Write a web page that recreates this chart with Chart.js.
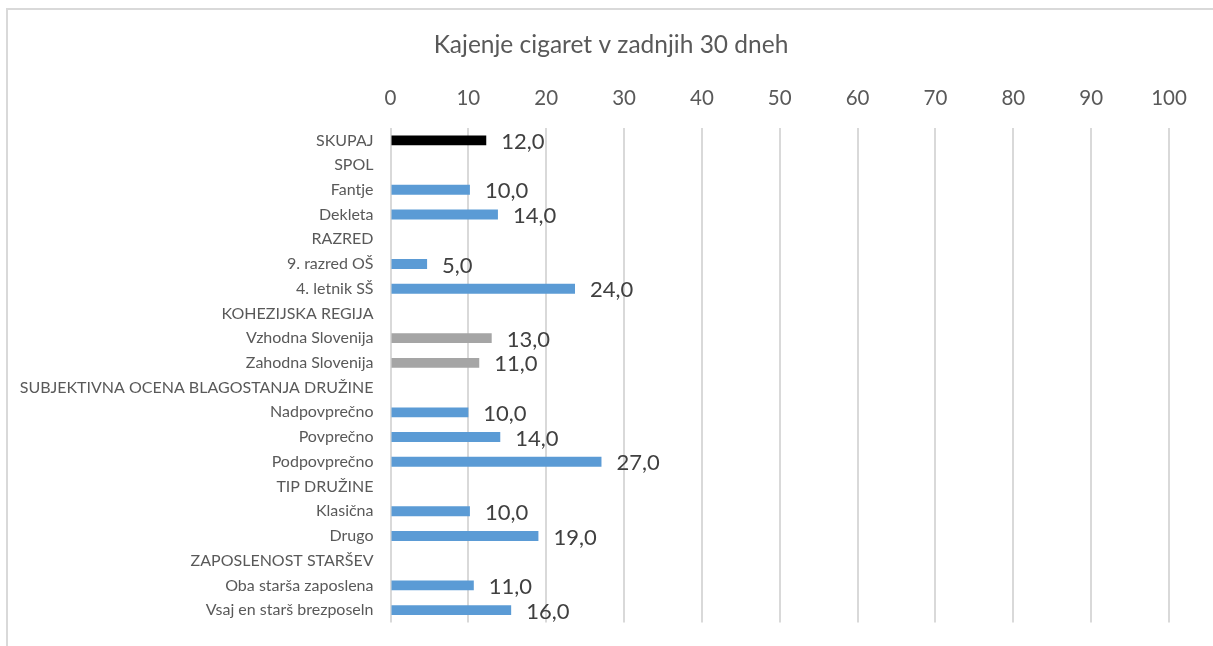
<!DOCTYPE html>
<html><head><meta charset="utf-8">
<script src="https://cdn.jsdelivr.net/npm/chart.js@4"></script>
<style>html,body{margin:0;padding:0;background:#fff;overflow:hidden}</style>
</head><body>
<canvas id="c" width="1213" height="646"></canvas>
<script>
const categories = [
  'SKUPAJ', 'SPOL', 'Fantje', 'Dekleta', 'RAZRED', '9. razred OŠ', '4. letnik SŠ',
  'KOHEZIJSKA REGIJA', 'Vzhodna Slovenija', 'Zahodna Slovenija',
  'SUBJEKTIVNA OCENA BLAGOSTANJA DRUŽINE', 'Nadpovprečno', 'Povprečno', 'Podpovprečno',
  'TIP DRUŽINE', 'Klasična', 'Drugo', 'ZAPOSLENOST STARŠEV',
  'Oba starša zaposlena', 'Vsaj en starš brezposeln'
];
const values = [
  12.3, null, 10.2, 13.8, null, 4.7, 23.7, null, 13.0, 11.4,
  null, 10.0, 14.1, 27.1, null, 10.2, 19.0, null, 10.7, 15.5
];
const valueLabels = [
  '12,0', '', '10,0', '14,0', '', '5,0', '24,0', '', '13,0', '11,0',
  '', '10,0', '14,0', '27,0', '', '10,0', '19,0', '', '11,0', '16,0'
];
const xTicks = [0, 10, 20, 30, 40, 50, 60, 70, 80, 90, 100];
const chartTitle = 'Kajenje cigaret v zadnjih 30 dneh';

// styling
const BLUE = '#5B9BD5', BLACK = '#000000', GRAY = '#A5A5A5';
const grayRows = ['Vzhodna Slovenija', 'Zahodna Slovenija'];
const barColors = categories.map((c, i) => i === 0 ? BLACK : (grayRows.includes(c) ? GRAY : BLUE));
const FONT = 'Lato, "Open Sans", sans-serif';

const frame = {
  id: 'frame',
  beforeDraw(chart) {
    const ctx = chart.ctx;
    ctx.save();
    ctx.strokeStyle = '#D9D9D9';
    ctx.lineWidth = 2;
    ctx.beginPath();
    ctx.moveTo(7, 660);
    ctx.lineTo(7, 9);
    ctx.lineTo(1230, 9);
    ctx.stroke();
    ctx.restore();
  }
};

const dataLabels = {
  id: 'dataLabels',
  afterDatasetsDraw(chart) {
    const ctx = chart.ctx;
    const meta = chart.getDatasetMeta(0);
    ctx.save();
    ctx.font = '22px ' + FONT;
    ctx.fillStyle = '#404040';
    ctx.textAlign = 'left';
    ctx.textBaseline = 'middle';
    meta.data.forEach((bar, i) => {
      if (values[i] == null || !valueLabels[i]) return;
      ctx.fillText(valueLabels[i], bar.x + 15, bar.y + 1.5);
    });
    ctx.restore();
  }
};

new Chart(document.getElementById('c'), {
  type: 'bar',
  data: {
    labels: categories,
    datasets: [{
      data: values,
      backgroundColor: barColors,
      barPercentage: 0.4,
      categoryPercentage: 1
    }]
  },
  options: {
    indexAxis: 'y',
    responsive: false,
    animation: false,
    layout: { padding: { left: 9, right: 0, top: 0, bottom: 23.5 } },
    plugins: {
      legend: { display: false },
      tooltip: { enabled: false },
      title: {
        display: true,
        text: chartTitle,
        color: '#595959',
        font: { family: FONT, size: 24.5, weight: 'normal' },
        padding: { top: 30, bottom: 10 }
      }
    },
    scales: {
      x: {
        position: 'top',
        min: 0, max: 100,
        afterBuildTicks(scale) { scale.ticks = xTicks.map(v => ({ value: v })); },
        afterFit(scale) { scale.paddingRight = 44; },
        ticks: { color: '#595959', font: { family: FONT, size: 20.5 }, padding: 17 },
        grid: { color: '#D9D9D9', lineWidth: 2, drawTicks: false },
        border: { display: false }
      },
      y: {
        afterFit(scale) { scale.width = 381.5; scale.paddingTop = 0; scale.paddingBottom = 0; },
        ticks: { color: '#595959', font: { family: FONT, size: 16 }, padding: 17, autoSkip: false },
        grid: { display: false, drawTicks: false },
        border: { display: false }
      }
    }
  },
  plugins: [frame, dataLabels]
});
</script>
</body></html>
